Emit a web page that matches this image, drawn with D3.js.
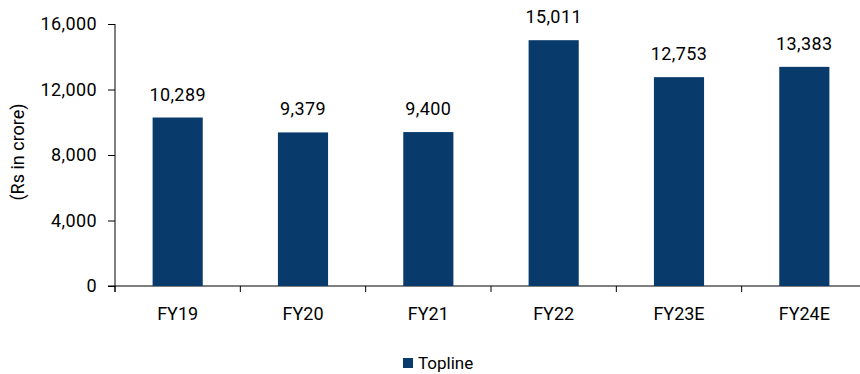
<!DOCTYPE html>
<html>
<head>
<meta charset="utf-8">
<script src="https://cdn.jsdelivr.net/npm/d3@7"></script>
<style>
  body{margin:0;background:#fff;}
  text{font-family:Roboto, "Liberation Sans", sans-serif;fill:#000;}
</style>
</head>
<body>
<svg id="chart" width="860" height="374"></svg>
<script>
var categories = ["FY19","FY20","FY21","FY22","FY23E","FY24E"];
var topline = [10289, 9379, 9400, 15011, 12753, 13383];
var yTicks = [0, 4000, 8000, 12000, 16000];
var seriesName = "Topline";

var svg = d3.select("#chart");
var mLeft = 115, mRight = 867, mTop = 24, mBottom = 286;

var x = d3.scaleBand().domain(categories).range([mLeft, mRight]).paddingInner(0.6).paddingOuter(0.3);
var y = d3.scaleLinear().domain([0, 16000]).range([mBottom, mTop]);
var fmt = d3.format(",");

// y axis
var yAxis = svg.append("g").attr("transform","translate("+mLeft+",0)")
  .call(d3.axisLeft(y).tickValues(yTicks).tickFormat(fmt).tickSize(7).tickPadding(11));
yAxis.select(".domain").attr("d","M0,"+mTop+"V"+(mBottom+6));
yAxis.selectAll("text").style("font-size","18px").style("letter-spacing","0.4px").attr("fill","#000");
yAxis.selectAll("line,path").attr("stroke","#000");

// x axis - ticks at category boundaries
var step = x.step();
var xg = svg.append("g").attr("transform","translate(0,"+mBottom+")");
xg.append("line").attr("x1",mLeft-7).attr("x2",mRight).attr("y1",0).attr("y2",0).attr("stroke","#000");
xg.selectAll(".tk").data(categories).enter().append("line")
  .attr("x1",function(d,i){return mLeft+i*step;})
  .attr("x2",function(d,i){return mLeft+i*step;})
  .attr("y1",0).attr("y2",6).attr("stroke","#000");
xg.selectAll(".lbl").data(categories).enter().append("text")
  .attr("x",function(d){return x(d)+x.bandwidth()/2;})
  .attr("y",34).attr("text-anchor","middle")
  .style("font-size","18px").text(function(d){return d;});

// bars
svg.selectAll(".bar").data(topline).enter().append("rect")
  .attr("x",function(d,i){return x(categories[i]);})
  .attr("y",function(d){return y(d);})
  .attr("width",x.bandwidth())
  .attr("height",function(d){return y(0)-y(d);})
  .attr("fill","#083a6b");

// value labels
svg.selectAll(".val").data(topline).enter().append("text")
  .attr("x",function(d,i){return x(categories[i])+x.bandwidth()/2;})
  .attr("y",function(d){return y(d)-17;})
  .attr("text-anchor","middle")
  .style("font-size","18px").style("letter-spacing","0.4px")
  .text(function(d){return fmt(d);});

// y title
svg.append("text")
  .attr("transform","translate(24,152) rotate(-90)")
  .attr("text-anchor","middle")
  .style("font-size","18px")
  .text("(Rs in crore)");

// legend
svg.append("rect").attr("x",403).attr("y",358).attr("width",10).attr("height",10).attr("fill","#083a6b");
svg.append("text").attr("x",418).attr("y",369).style("font-size","17px").text(seriesName);
</script>
</body>
</html>
